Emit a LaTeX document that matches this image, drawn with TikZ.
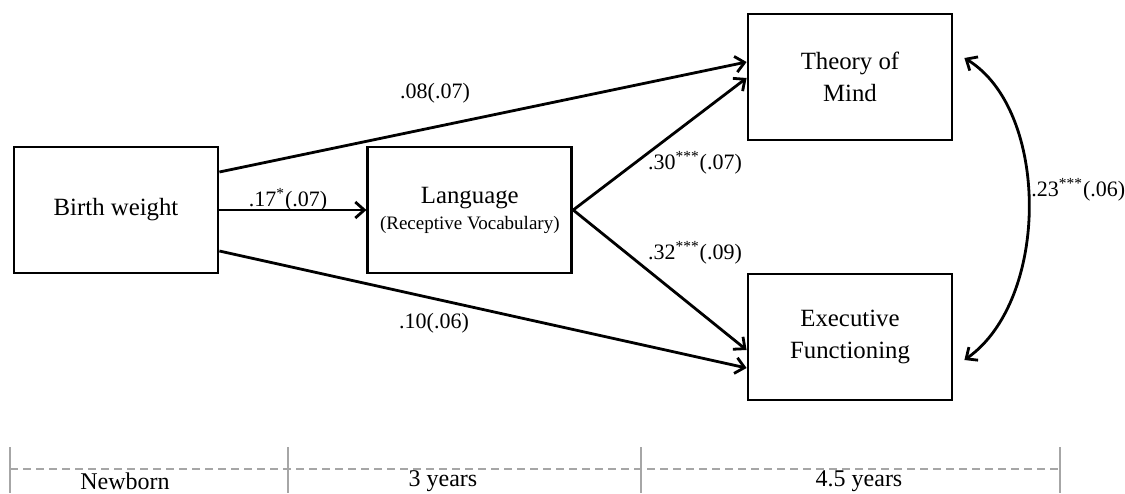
\documentclass[tikz,border=0pt]{standalone}
\usepackage{fontspec}
\setmainfont{Liberation Serif}
\usetikzlibrary{arrows.meta,positioning}

\begin{document}
\begin{tikzpicture}[x=0.5pt,y=-0.5pt,
  varbox/.style={draw,line width=1.4pt,minimum width=102pt,
               minimum height=63pt,align=center,
               font=\fontsize{12.4}{16}\selectfont},
  arr/.style={-{Straight Barb[length=4.5pt,width=8pt]},line width=1.4pt},
  coef/.style={font=\fontsize{11}{13}\selectfont},
  era/.style={gray!70,line width=0.8pt},
  agelbl/.style={font=\fontsize{12}{14}\selectfont},
]
  \useasboundingbox (0,0) rectangle (1125,493);

  \node[varbox] (bw)   at (116,210) {Birth weight};
  \node[varbox,right=73.5pt of bw] (lang)
        {Language\\[-3pt]{\fontsize{9.5}{11}\selectfont(Receptive Vocabulary)}};
  \node[varbox] (tom)  at (850,77)  {Theory of\\Mind};
  \node[varbox] (ef)   at (850,337) {Executive\\Functioning};

  \draw[arr] (bw) -- (lang);
  \draw[arr] ([yshift=19pt]bw.east) -- ([yshift=7.5pt]tom.west);
  \draw[arr] ([yshift=-20.5pt]bw.east) -- ([yshift=-15.5pt]ef.west);
  \draw[arr] (lang.east) -- ([yshift=-0.5pt]tom.west);
  \draw[arr] (lang.east) -- ([yshift=-6.5pt]ef.west);
  \draw[arr,{Straight Barb[length=4.5pt,width=8pt]}-{Straight Barb[length=4.5pt,width=8pt]}]
    ([shift={(11,-19)}]tom.east) .. controls (1050,110) and (1050,300) .. ([shift={(11,23)}]ef.east);

  \node[coef] (c1) at (435,93)  {.08(.07)};
  \node[coef] (c2) at (288,200) {.17\textsuperscript{*}(.07)};
  \node[coef] (c3) at (695,163) {.30\textsuperscript{***}(.07)};
  \node[coef] (c4) at (695,253) {.32\textsuperscript{***}(.09)};
  \node[coef] (c5) at (434,323) {.10(.06)};
  \node[coef,anchor=west,inner sep=0pt] (c6) at (1031,190) {.23\textsuperscript{***}(.06)};

  % time line
  \foreach \x in {10,288,641,1060}
    \draw[era] (\x,447) -- (\x,493);
  \draw[era,dash pattern=on 4pt off 2.5pt] (10,469) -- (1060,469);
  \node[agelbl] (t0) at (125,481) {Newborn};
  \node[agelbl] (t1) at (443,481) {3 years};
  \node[agelbl] (t2) at (859,481) {4.5 years};
\end{tikzpicture}
\end{document}
